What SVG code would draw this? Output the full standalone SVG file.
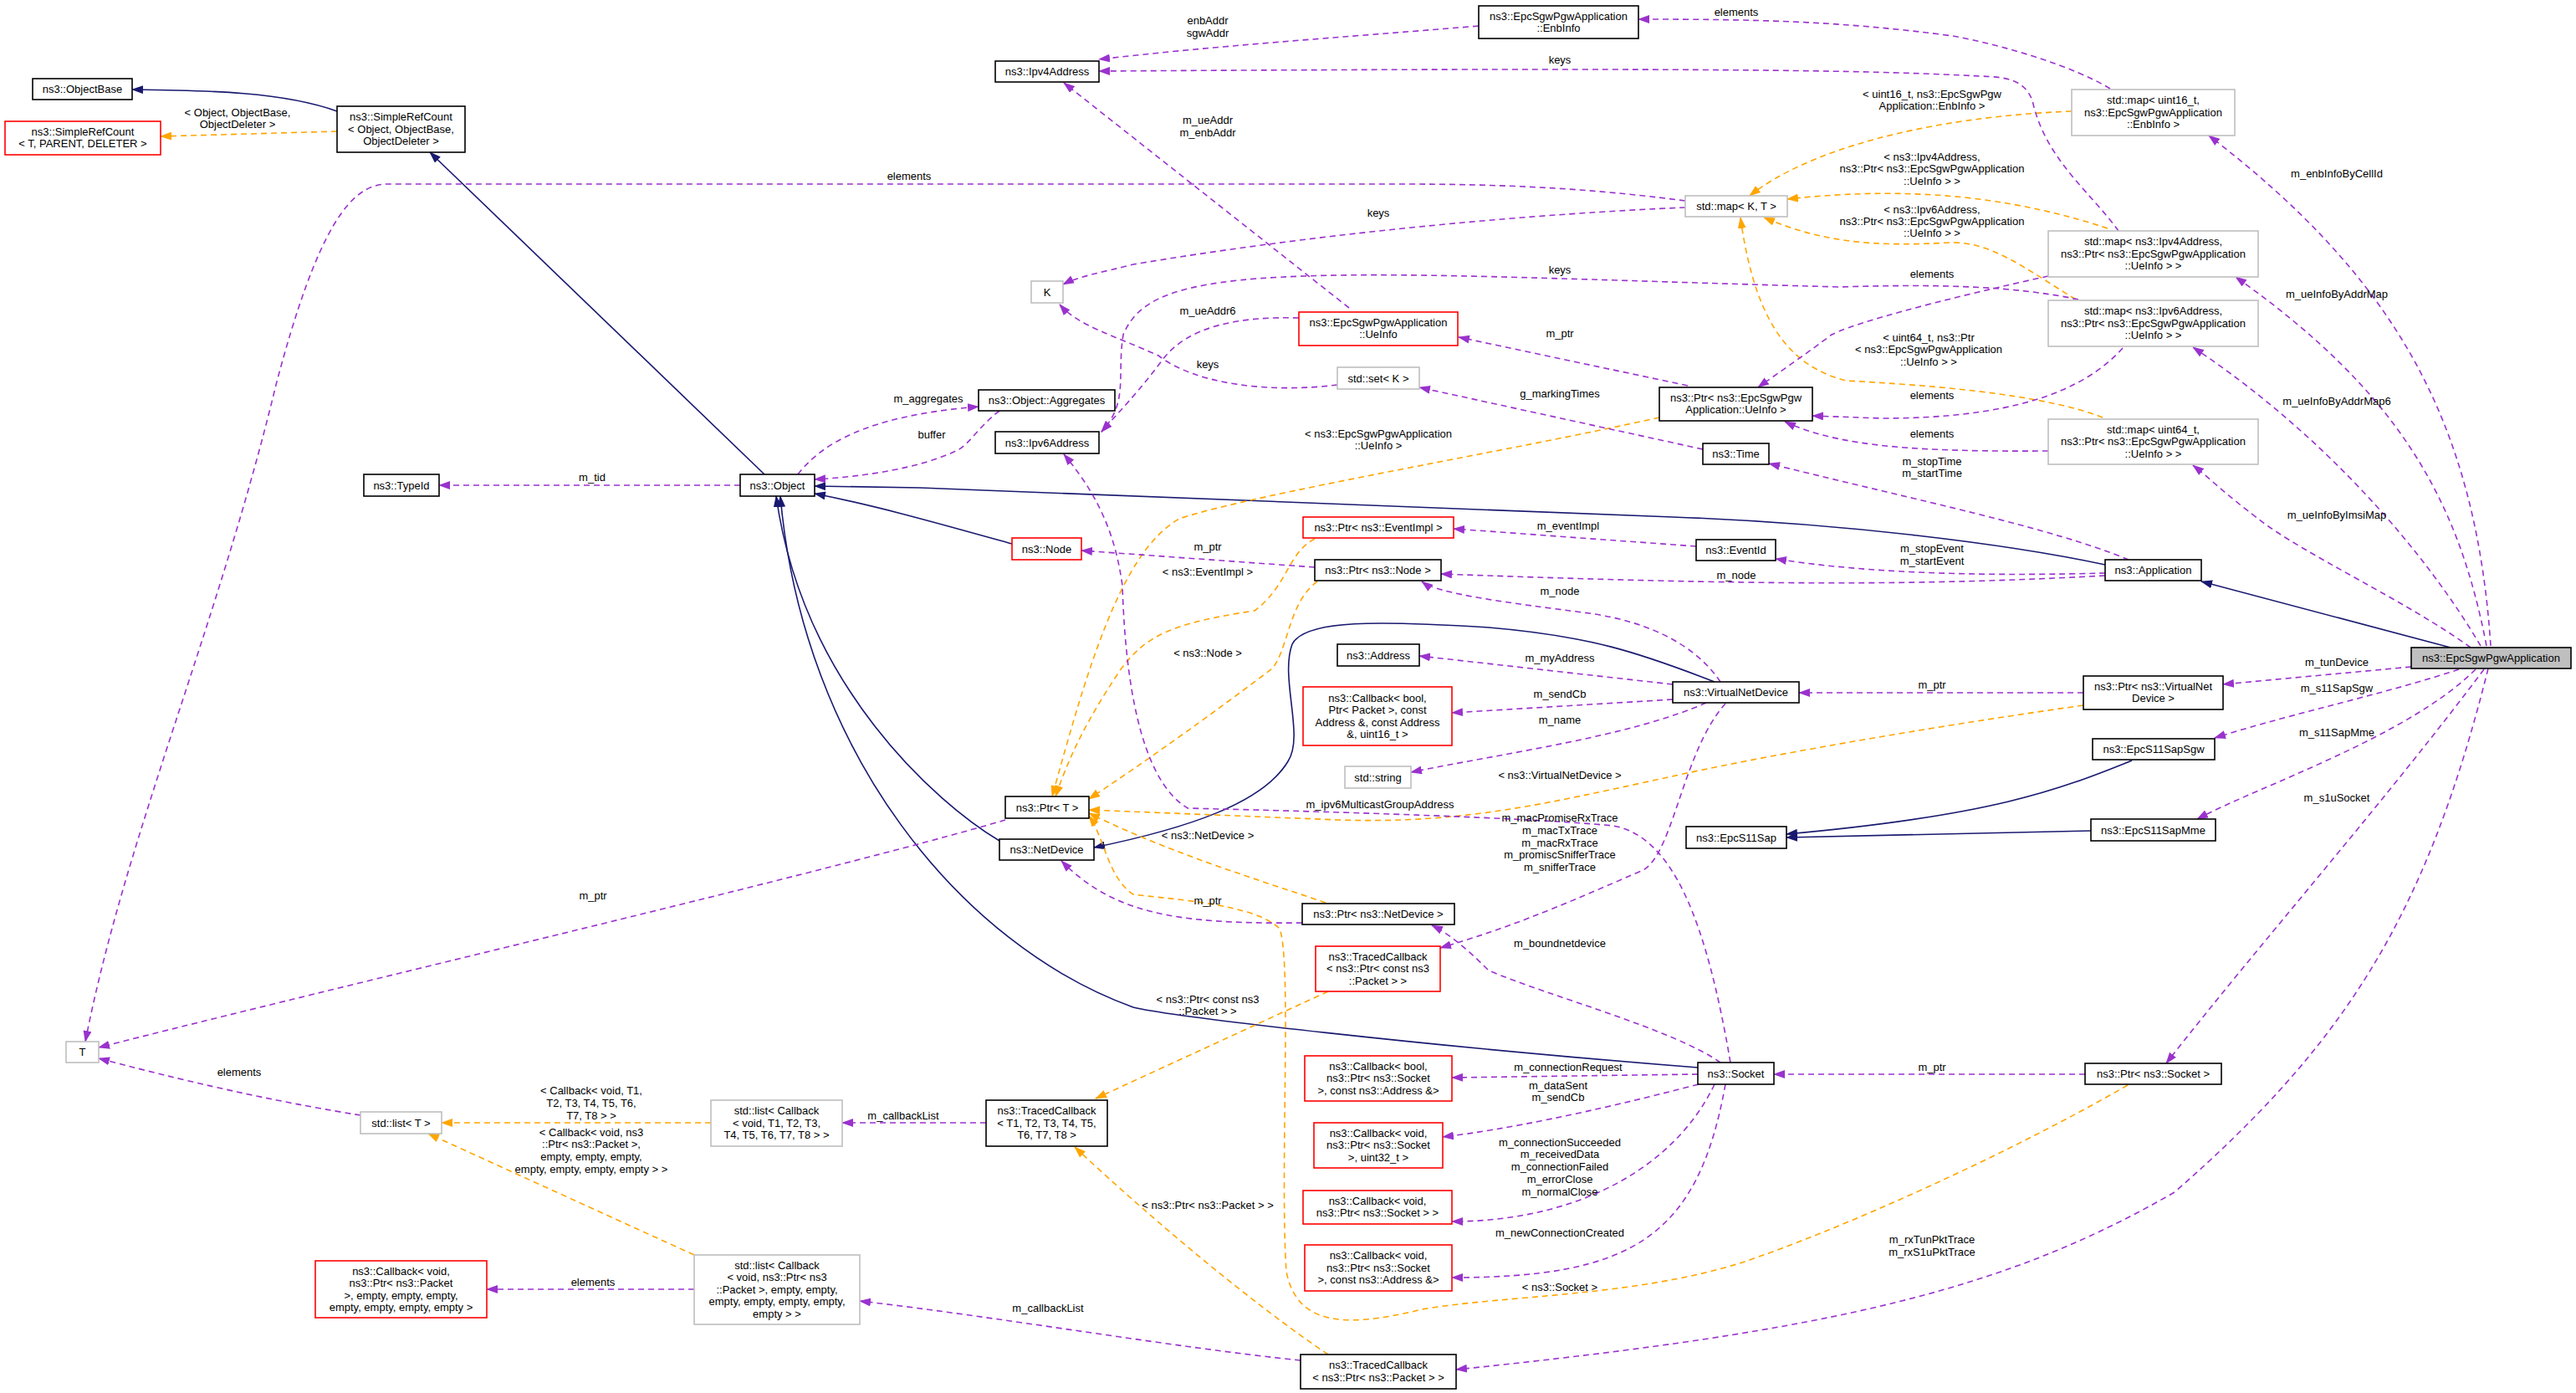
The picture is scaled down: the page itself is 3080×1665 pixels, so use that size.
<svg xmlns="http://www.w3.org/2000/svg" width="3080" height="1665" viewBox="0 0 3080 1665">
<style>
text{font-family:"Liberation Sans",Arial,sans-serif;font-size:13px;fill:#000;text-anchor:middle}
.b{fill:#fff;stroke:#000;stroke-width:1.6}
.r{fill:#fff;stroke:#ff0000;stroke-width:1.6}
.g{fill:#fff;stroke:#bfbfbf;stroke-width:1.6}
.s{fill:#bfbfbf;stroke:#000;stroke-width:1.6}
.p{fill:none;stroke:#9a32cd;stroke-width:1.6;stroke-dasharray:7,5;marker-end:url(#ap)}
.o{fill:none;stroke:#ffa500;stroke-width:1.6;stroke-dasharray:7,5;marker-end:url(#ao)}
.n{fill:none;stroke:#191970;stroke-width:1.6;marker-end:url(#an)}
</style>
<defs>
<marker id="ap" markerWidth="14" markerHeight="10" refX="13" refY="5" orient="auto" markerUnits="userSpaceOnUse"><path d="M0,0L14,5L0,10z" fill="#9a32cd"/></marker>
<marker id="ao" markerWidth="14" markerHeight="10" refX="13" refY="5" orient="auto" markerUnits="userSpaceOnUse"><path d="M0,0L14,5L0,10z" fill="#ffa500"/></marker>
<marker id="an" markerWidth="14" markerHeight="10" refX="13" refY="5" orient="auto" markerUnits="userSpaceOnUse"><path d="M0,0L14,5L0,10z" fill="#191970"/></marker>
</defs>
<rect width="3080" height="1665" fill="#fff"/>
<g id="connectors">
<path class="n" d="M403,133 C340,110 250,108 158,107"/>
<path class="n" d="M914,567 L514,182"/>
<path class="n" d="M1210,650 C1120,625 1050,605 974,590"/>
<path class="n" d="M2517,675 C2400,650 2200,625 2000,618 L1100,583 L974,581"/>
<path class="n" d="M1195,1005 C1120,960 960,820 928,593"/>
<path class="n" d="M2030,1276 C1700,1250 1400,1215 1355,1204 C1150,1130 960,900 933,593"/>
<path class="n" d="M2050,815 C1960,780 1900,760 1780,750 C1650,742 1560,740 1545,770 C1530,810 1560,880 1540,910 C1510,960 1420,990 1308,1013"/>
<path class="n" d="M2930,774 L2632,695"/>
<path class="n" d="M2549,909 C2460,945 2380,975 2136,997"/>
<path class="n" d="M2500,993 L2136,1001"/>
<path class="o" d="M403,157 L192,163"/>
<path class="o" d="M2477,133 C2300,140 2160,180 2092,234"/>
<path class="o" d="M2520,273 C2420,240 2300,220 2137,238"/>
<path class="o" d="M2482,358 C2420,320 2380,288 2330,290 C2240,295 2180,290 2109,260"/>
<path class="o" d="M2514,499 C2440,470 2300,460 2207,455 C2150,440 2100,400 2081,260"/>
<path class="o" d="M1984,499 C1800,540 1500,590 1410,620 C1340,660 1300,800 1258,952"/>
<path class="o" d="M1572,644 C1540,660 1540,700 1500,730 C1400,745 1370,760 1340,800 C1300,860 1280,900 1262,952"/>
<path class="o" d="M1575,695 C1540,720 1540,780 1520,800 C1480,830 1400,890 1302,955"/>
<path class="o" d="M2491,843 C2300,870 2100,905 1990,930 C1850,960 1750,985 1600,980 L1302,968"/>
<path class="o" d="M1585,1079 C1500,1050 1400,1020 1302,972"/>
<path class="o" d="M2544,1297 C2400,1380 2200,1470 2080,1510 C1950,1550 1800,1548 1700,1565 C1600,1590 1550,1580 1538,1520 C1530,1400 1545,1150 1530,1110 C1500,1080 1400,1075 1355,1069 C1325,1050 1320,1000 1302,975"/>
<path class="o" d="M1588,1185 L1310,1313"/>
<path class="o" d="M1588,1619 C1500,1560 1380,1460 1285,1371"/>
<path class="o" d="M850,1342 L528,1342"/>
<path class="o" d="M830,1500 L512,1355"/>
<path class="p" d="M2015,240 C1900,225 1800,220 1674,220 L463,220 C420,220 380,270 330,460 C260,750 150,1000 102,1245"/>
<path class="p" d="M2015,248 C1850,255 1600,275 1355,316 C1320,325 1290,330 1271,340"/>
<path class="p" d="M2533,276 C2500,230 2445,190 2430,120 C2420,95 2400,92 2367,91 C2250,85 2100,80 1314,85"/>
<path class="p" d="M2523,106 C2480,80 2400,55 2335,43 C2200,25 2100,23 1959,23"/>
<path class="p" d="M1768,31 C1600,45 1450,55 1314,71"/>
<path class="p" d="M1613,368 L1272,99"/>
<path class="p" d="M1553,380 C1480,378 1420,390 1390,430 C1360,470 1340,490 1317,516"/>
<path class="p" d="M2485,358 C2400,340 2300,340 2200,343 C1900,335 1700,325 1560,330 C1400,335 1360,360 1343,400 C1335,450 1350,480 1317,516"/>
<path class="p" d="M2449,330 C2380,345 2230,380 2190,400 C2150,430 2120,450 2102,463"/>
<path class="p" d="M2538,416 C2490,470 2400,500 2250,500 L2167,497"/>
<path class="p" d="M2449,539 C2300,540 2200,535 2134,504"/>
<path class="p" d="M2018,461 L1744,403"/>
<path class="p" d="M1599,460 C1520,470 1430,460 1385,425 C1330,400 1290,390 1267,364"/>
<path class="p" d="M2036,537 L1697,463"/>
<path class="p" d="M954,567 C990,520 1060,495 1170,486"/>
<path class="p" d="M1195,491 C1170,510 1160,530 1145,538 C1100,560 1030,570 974,573"/>
<path class="p" d="M885,580 L525,580"/>
<path class="p" d="M2545,669 C2450,630 2300,600 2115,554"/>
<path class="p" d="M2517,685 C2400,688 2250,688 2123,668"/>
<path class="p" d="M2517,688 C2300,700 2100,700 1723,686"/>
<path class="p" d="M2028,653 L1738,632"/>
<path class="p" d="M1572,678 L1293,658"/>
<path class="p" d="M2057,815 C2020,760 1950,740 1900,733 C1800,720 1720,710 1700,695"/>
<path class="p" d="M2000,818 L1697,784"/>
<path class="p" d="M2000,836 L1736,852"/>
<path class="p" d="M2040,840 C1950,880 1800,900 1687,923"/>
<path class="p" d="M2063,841 C2010,900 2000,1030 1960,1042 C1850,1090 1800,1110 1722,1133"/>
<path class="p" d="M2491,828 L2151,828"/>
<path class="p" d="M2883,797 L2658,818"/>
<path class="p" d="M2940,800 C2850,830 2750,850 2648,882"/>
<path class="p" d="M2960,800 C2880,880 2700,940 2627,979"/>
<path class="p" d="M2970,800 C2850,960 2700,1130 2590,1271"/>
<path class="p" d="M2975,799 C2900,1100 2800,1250 2600,1425 C2400,1540 2200,1590 1741,1637"/>
<path class="p" d="M2954,774 C2880,720 2750,660 2700,620 C2660,590 2640,570 2622,556"/>
<path class="p" d="M2966,772 C2900,660 2780,520 2622,415"/>
<path class="p" d="M2973,772 C2940,600 2870,470 2673,331"/>
<path class="p" d="M2978,772 C2960,500 2860,330 2641,162"/>
<path class="p" d="M1202,980 C1000,1040 400,1180 118,1252"/>
<path class="p" d="M1557,1103 C1400,1105 1330,1090 1269,1029"/>
<path class="p" d="M2057,1270 C2000,1230 1850,1190 1780,1160 C1750,1130 1730,1115 1712,1106"/>
<path class="p" d="M2069,1270 C2040,1100 2000,1000 1929,987 C1800,975 1500,968 1420,966 C1360,930 1345,800 1342,700 C1335,650 1320,600 1272,543"/>
<path class="p" d="M2030,1284 L1736,1288"/>
<path class="p" d="M2031,1296 C1900,1330 1800,1350 1725,1359"/>
<path class="p" d="M2050,1296 C2000,1400 1880,1460 1736,1460"/>
<path class="p" d="M2063,1296 C2030,1480 1950,1527 1736,1527"/>
<path class="p" d="M2493,1284 L2121,1284"/>
<path class="p" d="M1179,1342 L1007,1342"/>
<path class="p" d="M1555,1626 C1400,1610 1200,1575 1028,1555"/>
<path class="p" d="M830,1541 L582,1541"/>
<path class="p" d="M431,1333 C350,1320 250,1300 118,1265"/>
<text x="284" y="139">&lt; Object, ObjectBase,</text><text x="284" y="153">ObjectDeleter &gt;</text>
<text x="1087" y="215">elements</text>
<text x="708" y="575">m_tid</text>
<text x="1444" y="29">enbAddr</text><text x="1444" y="44">sgwAddr</text>
<text x="1865" y="76">keys</text>
<text x="2076" y="19">elements</text>
<text x="1444" y="148">m_ueAddr</text><text x="1444" y="163">m_enbAddr</text>
<text x="1648" y="259">keys</text>
<text x="1865" y="327">keys</text>
<text x="1444" y="376">m_ueAddr6</text>
<text x="1865" y="403">m_ptr</text>
<text x="1444" y="440">keys</text>
<text x="1865" y="475">g_markingTimes</text>
<text x="1110" y="481">m_aggregates</text>
<text x="1114" y="524">buffer</text>
<text x="1648" y="523">&lt; ns3::EpcSgwPgwApplication</text><text x="1648" y="537">::UeInfo &gt;</text>
<text x="2310" y="117">&lt; uint16_t, ns3::EpcSgwPgw</text><text x="2310" y="131">Application::EnbInfo &gt;</text>
<text x="2310" y="192">&lt; ns3::Ipv4Address,</text><text x="2310" y="206">ns3::Ptr&lt; ns3::EpcSgwPgwApplication</text><text x="2310" y="221">::UeInfo &gt; &gt;</text>
<text x="2310" y="255">&lt; ns3::Ipv6Address,</text><text x="2310" y="269">ns3::Ptr&lt; ns3::EpcSgwPgwApplication</text><text x="2310" y="283">::UeInfo &gt; &gt;</text>
<text x="2310" y="332">elements</text>
<text x="2306" y="408">&lt; uint64_t, ns3::Ptr</text><text x="2306" y="422">&lt; ns3::EpcSgwPgwApplication</text><text x="2306" y="437">::UeInfo &gt; &gt;</text>
<text x="2310" y="477">elements</text>
<text x="2310" y="523">elements</text>
<text x="2310" y="556">m_stopTime</text><text x="2310" y="570">m_startTime</text>
<text x="2794" y="212">m_enbInfoByCellId</text>
<text x="2794" y="356">m_ueInfoByAddrMap</text>
<text x="2794" y="484">m_ueInfoByAddrMap6</text>
<text x="2794" y="620">m_ueInfoByImsiMap</text>
<text x="2310" y="660">m_stopEvent</text><text x="2310" y="675">m_startEvent</text>
<text x="2076" y="692">m_node</text>
<text x="1865" y="711">m_node</text>
<text x="1875" y="633">m_eventImpl</text>
<text x="1444" y="658">m_ptr</text>
<text x="1444" y="688">&lt; ns3::EventImpl &gt;</text>
<text x="1444" y="785">&lt; ns3::Node &gt;</text>
<text x="1865" y="791">m_myAddress</text>
<text x="1865" y="834">m_sendCb</text>
<text x="1865" y="865">m_name</text>
<text x="1865" y="931">&lt; ns3::VirtualNetDevice &gt;</text>
<text x="1650" y="966">m_ipv6MulticastGroupAddress</text>
<text x="1444" y="1003">&lt; ns3::NetDevice &gt;</text>
<text x="1865" y="982">m_macPromiseRxTrace</text><text x="1865" y="997">m_macTxTrace</text><text x="1865" y="1012">m_macRxTrace</text><text x="1865" y="1026">m_promiscSnifferTrace</text><text x="1865" y="1041">m_snifferTrace</text>
<text x="1444" y="1081">m_ptr</text>
<text x="1865" y="1132">m_boundnetdevice</text>
<text x="1444" y="1199">&lt; ns3::Ptr&lt; const ns3</text><text x="1444" y="1213">::Packet &gt; &gt;</text>
<text x="1875" y="1280">m_connectionRequest</text>
<text x="1863" y="1302">m_dataSent</text><text x="1863" y="1316">m_sendCb</text>
<text x="1865" y="1370">m_connectionSucceeded</text><text x="1865" y="1384">m_receivedData</text><text x="1865" y="1399">m_connectionFailed</text><text x="1865" y="1414">m_errorClose</text><text x="1865" y="1429">m_normalClose</text>
<text x="1865" y="1478">m_newConnectionCreated</text>
<text x="1865" y="1543">&lt; ns3::Socket &gt;</text>
<text x="1444" y="1445">&lt; ns3::Ptr&lt; ns3::Packet &gt; &gt;</text>
<text x="1253" y="1568">m_callbackList</text>
<text x="1080" y="1338">m_callbackList</text>
<text x="2310" y="823">m_ptr</text>
<text x="2794" y="796">m_tunDevice</text>
<text x="2794" y="827">m_s11SapSgw</text>
<text x="2794" y="880">m_s11SapMme</text>
<text x="2794" y="958">m_s1uSocket</text>
<text x="2310" y="1280">m_ptr</text>
<text x="2310" y="1486">m_rxTunPktTrace</text><text x="2310" y="1501">m_rxS1uPktTrace</text>
<text x="709" y="1075">m_ptr</text>
<text x="286" y="1286">elements</text>
<text x="707" y="1308">&lt; Callback&lt; void, T1,</text><text x="707" y="1323">T2, T3, T4, T5, T6,</text><text x="707" y="1338">T7, T8 &gt; &gt;</text>
<text x="707" y="1358">&lt; Callback&lt; void, ns3</text><text x="707" y="1372">::Ptr&lt; ns3::Packet &gt;,</text><text x="707" y="1387">empty, empty, empty,</text><text x="707" y="1402">empty, empty, empty, empty &gt; &gt;</text>
<text x="709" y="1537">elements</text>
</g>
<g id="ObjectBase"><rect class="b" x="39" y="94" width="119" height="25"/><text x="98.5" y="111">ns3::ObjectBase</text></g>
<g id="SimpleRefCountT"><rect class="r" x="6" y="145" width="186" height="40"/><text x="99" y="162">ns3::SimpleRefCount</text><text x="99" y="176">&lt; T, PARENT, DELETER &gt;</text></g>
<g id="SimpleRefCountObj"><rect class="b" x="403" y="127" width="153" height="55"/><text x="479.5" y="144">ns3::SimpleRefCount</text><text x="479.5" y="159">&lt; Object, ObjectBase,</text><text x="479.5" y="173">ObjectDeleter &gt;</text></g>
<g id="TypeId"><rect class="b" x="435" y="567" width="90" height="26"/><text x="480" y="585">ns3::TypeId</text></g>
<g id="Object"><rect class="b" x="885" y="567" width="89" height="26"/><text x="929.5" y="585">ns3::Object</text></g>
<g id="EnbInfo"><rect class="b" x="1768" y="7" width="191" height="39"/><text x="1863.5" y="24">ns3::EpcSgwPgwApplication</text><text x="1863.5" y="38">::EnbInfo</text></g>
<g id="Ipv4Address"><rect class="b" x="1190" y="73" width="124" height="25"/><text x="1252" y="90">ns3::Ipv4Address</text></g>
<g id="MapKT"><rect class="g" x="2015" y="234" width="122" height="25"/><text x="2076" y="251">std::map&lt; K, T &gt;</text></g>
<g id="K"><rect class="g" x="1233" y="336" width="38" height="26"/><text x="1252" y="354">K</text></g>
<g id="UeInfo"><rect class="r" x="1553" y="373" width="190" height="40"/><text x="1648" y="390">ns3::EpcSgwPgwApplication</text><text x="1648" y="404">::UeInfo</text></g>
<g id="SetK"><rect class="g" x="1599" y="439" width="98" height="26"/><text x="1648" y="457">std::set&lt; K &gt;</text></g>
<g id="Aggregates"><rect class="b" x="1170" y="466" width="163" height="25"/><text x="1251.5" y="483">ns3::Object::Aggregates</text></g>
<g id="Ipv6Address"><rect class="b" x="1190" y="516" width="124" height="26"/><text x="1252" y="534">ns3::Ipv6Address</text></g>
<g id="PtrUeInfo"><rect class="b" x="1984" y="463" width="183" height="40"/><text x="2075.5" y="480">ns3::Ptr&lt; ns3::EpcSgwPgw</text><text x="2075.5" y="494">Application::UeInfo &gt;</text></g>
<g id="Time"><rect class="b" x="2036" y="530" width="79" height="25"/><text x="2075.5" y="547">ns3::Time</text></g>
<g id="MapUint16"><rect class="g" x="2477" y="107" width="195" height="55"/><text x="2574.5" y="124">std::map&lt; uint16_t,</text><text x="2574.5" y="139">ns3::EpcSgwPgwApplication</text><text x="2574.5" y="153">::EnbInfo &gt;</text></g>
<g id="MapIpv4"><rect class="g" x="2449" y="276" width="251" height="55"/><text x="2574.5" y="293">std::map&lt; ns3::Ipv4Address,</text><text x="2574.5" y="308">ns3::Ptr&lt; ns3::EpcSgwPgwApplication</text><text x="2574.5" y="322">::UeInfo &gt; &gt;</text></g>
<g id="MapIpv6"><rect class="g" x="2449" y="359" width="251" height="55"/><text x="2574.5" y="376">std::map&lt; ns3::Ipv6Address,</text><text x="2574.5" y="391">ns3::Ptr&lt; ns3::EpcSgwPgwApplication</text><text x="2574.5" y="405">::UeInfo &gt; &gt;</text></g>
<g id="MapUint64"><rect class="g" x="2449" y="501" width="251" height="54"/><text x="2574.5" y="518">std::map&lt; uint64_t,</text><text x="2574.5" y="532">ns3::Ptr&lt; ns3::EpcSgwPgwApplication</text><text x="2574.5" y="547">::UeInfo &gt; &gt;</text></g>
<g id="Application"><rect class="b" x="2517" y="669" width="115" height="25"/><text x="2574.5" y="686">ns3::Application</text></g>
<g id="EpcSgwPgwApplication"><rect class="s" x="2883" y="774" width="191" height="25"/><text x="2978.5" y="791">ns3::EpcSgwPgwApplication</text></g>
<g id="EventId"><rect class="b" x="2028" y="645" width="95" height="25"/><text x="2075.5" y="662">ns3::EventId</text></g>
<g id="PtrEventImpl"><rect class="r" x="1558" y="618" width="180" height="25"/><text x="1648" y="635">ns3::Ptr&lt; ns3::EventImpl &gt;</text></g>
<g id="Node"><rect class="r" x="1210" y="643" width="83" height="26"/><text x="1251.5" y="661">ns3::Node</text></g>
<g id="PtrNode"><rect class="b" x="1572" y="669" width="151" height="25"/><text x="1647.5" y="686">ns3::Ptr&lt; ns3::Node &gt;</text></g>
<g id="Address"><rect class="b" x="1599" y="770" width="98" height="26"/><text x="1648" y="788">ns3::Address</text></g>
<g id="VirtualNetDevice"><rect class="b" x="2000" y="815" width="151" height="25"/><text x="2075.5" y="832">ns3::VirtualNetDevice</text></g>
<g id="CallbackBoolPacket"><rect class="r" x="1558" y="821" width="178" height="70"/><text x="1647" y="839">ns3::Callback&lt; bool,</text><text x="1647" y="853">Ptr&lt; Packet &gt;, const</text><text x="1647" y="868">Address &amp;, const Address</text><text x="1647" y="882">&amp;, uint16_t &gt;</text></g>
<g id="String"><rect class="g" x="1608" y="916" width="79" height="26"/><text x="1647.5" y="934">std::string</text></g>
<g id="PtrT"><rect class="b" x="1202" y="952" width="100" height="26"/><text x="1252" y="970">ns3::Ptr&lt; T &gt;</text></g>
<g id="NetDevice"><rect class="b" x="1195" y="1003" width="113" height="25"/><text x="1251.5" y="1020">ns3::NetDevice</text></g>
<g id="PtrVirtualNetDevice"><rect class="b" x="2491" y="808" width="167" height="40"/><text x="2574.5" y="825">ns3::Ptr&lt; ns3::VirtualNet</text><text x="2574.5" y="839">Device &gt;</text></g>
<g id="EpcS11SapSgw"><rect class="b" x="2502" y="883" width="146" height="25"/><text x="2575" y="900">ns3::EpcS11SapSgw</text></g>
<g id="EpcS11SapMme"><rect class="b" x="2500" y="979" width="149" height="26"/><text x="2574.5" y="997">ns3::EpcS11SapMme</text></g>
<g id="EpcS11Sap"><rect class="b" x="2016" y="988" width="120" height="26"/><text x="2076" y="1006">ns3::EpcS11Sap</text></g>
<g id="PtrSocket"><rect class="b" x="2493" y="1271" width="163" height="25"/><text x="2574.5" y="1288">ns3::Ptr&lt; ns3::Socket &gt;</text></g>
<g id="PtrNetDevice"><rect class="b" x="1557" y="1080" width="182" height="25"/><text x="1648" y="1097">ns3::Ptr&lt; ns3::NetDevice &gt;</text></g>
<g id="TracedCallbackConstPacket"><rect class="r" x="1573" y="1131" width="149" height="54"/><text x="1647.5" y="1148">ns3::TracedCallback</text><text x="1647.5" y="1162">&lt; ns3::Ptr&lt; const ns3</text><text x="1647.5" y="1177">::Packet &gt; &gt;</text></g>
<g id="Socket"><rect class="b" x="2030" y="1270" width="91" height="26"/><text x="2075.5" y="1288">ns3::Socket</text></g>
<g id="CbBoolSocket"><rect class="r" x="1560" y="1262" width="176" height="54"/><text x="1648" y="1279">ns3::Callback&lt; bool,</text><text x="1648" y="1293">ns3::Ptr&lt; ns3::Socket</text><text x="1648" y="1308">&gt;, const ns3::Address &amp;&gt;</text></g>
<g id="CbVoidSocketU32"><rect class="r" x="1571" y="1342" width="154" height="54"/><text x="1648" y="1359">ns3::Callback&lt; void,</text><text x="1648" y="1373">ns3::Ptr&lt; ns3::Socket</text><text x="1648" y="1388">&gt;, uint32_t &gt;</text></g>
<g id="CbVoidSocket"><rect class="r" x="1558" y="1423" width="178" height="40"/><text x="1647" y="1440">ns3::Callback&lt; void,</text><text x="1647" y="1454">ns3::Ptr&lt; ns3::Socket &gt; &gt;</text></g>
<g id="CbVoidSocketAddr"><rect class="r" x="1560" y="1488" width="176" height="55"/><text x="1648" y="1505">ns3::Callback&lt; void,</text><text x="1648" y="1520">ns3::Ptr&lt; ns3::Socket</text><text x="1648" y="1534">&gt;, const ns3::Address &amp;&gt;</text></g>
<g id="TracedCallbackPacket"><rect class="b" x="1555" y="1619" width="186" height="41"/><text x="1648" y="1636">ns3::TracedCallback</text><text x="1648" y="1651">&lt; ns3::Ptr&lt; ns3::Packet &gt; &gt;</text></g>
<g id="TracedCallbackT"><rect class="b" x="1179" y="1315" width="145" height="55"/><text x="1251.5" y="1332">ns3::TracedCallback</text><text x="1251.5" y="1347">&lt; T1, T2, T3, T4, T5,</text><text x="1251.5" y="1361">T6, T7, T8 &gt;</text></g>
<g id="T"><rect class="g" x="79" y="1245" width="39" height="25"/><text x="98.5" y="1262">T</text></g>
<g id="ListT"><rect class="g" x="431" y="1329" width="97" height="26"/><text x="479.5" y="1347">std::list&lt; T &gt;</text></g>
<g id="ListCbT"><rect class="g" x="850" y="1315" width="157" height="55"/><text x="928.5" y="1332">std::list&lt; Callback</text><text x="928.5" y="1347">&lt; void, T1, T2, T3,</text><text x="928.5" y="1361">T4, T5, T6, T7, T8 &gt; &gt;</text></g>
<g id="CbPacket"><rect class="r" x="377" y="1507" width="205" height="68"/><text x="479.5" y="1524">ns3::Callback&lt; void,</text><text x="479.5" y="1538">ns3::Ptr&lt; ns3::Packet</text><text x="479.5" y="1553">&gt;, empty, empty, empty,</text><text x="479.5" y="1567">empty, empty, empty, empty &gt;</text></g>
<g id="ListCbPacket"><rect class="g" x="830" y="1500" width="198" height="83"/><text x="929" y="1517">std::list&lt; Callback</text><text x="929" y="1531">&lt; void, ns3::Ptr&lt; ns3</text><text x="929" y="1546">::Packet &gt;, empty, empty,</text><text x="929" y="1560">empty, empty, empty, empty,</text><text x="929" y="1575">empty &gt; &gt;</text></g>
</svg>
